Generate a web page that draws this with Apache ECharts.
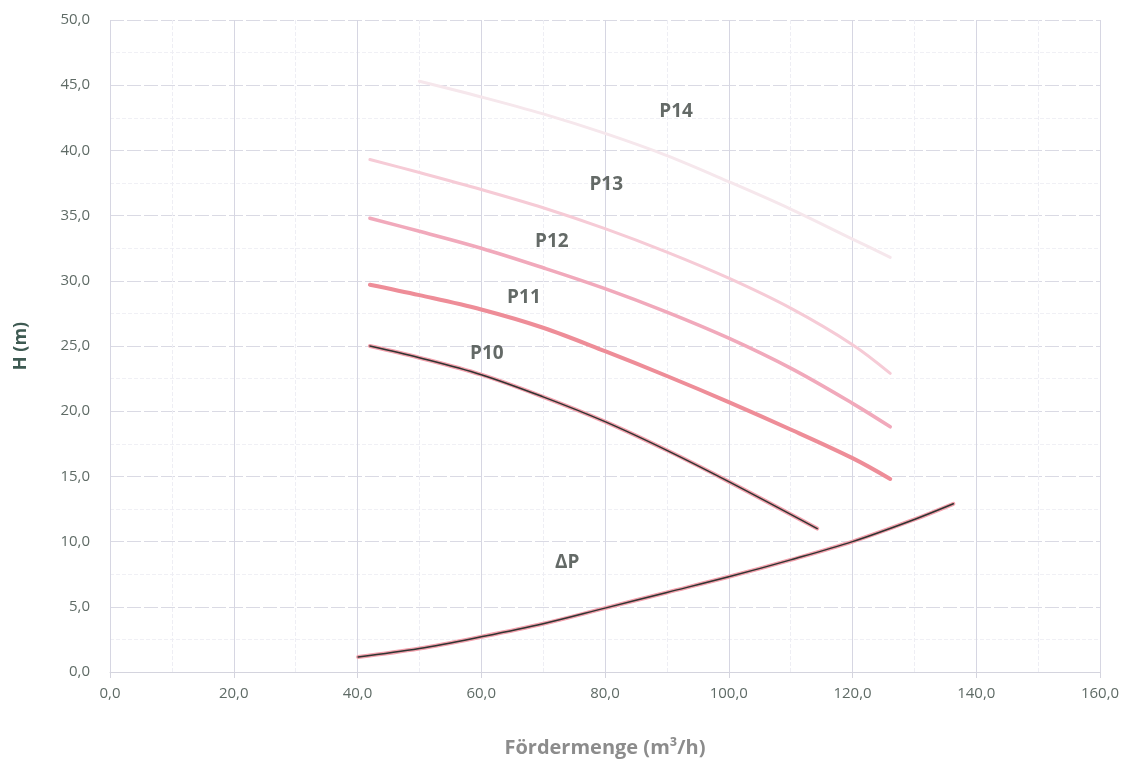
<!DOCTYPE html>
<html>
<head>
<meta charset="utf-8">
<script src="https://cdn.jsdelivr.net/npm/echarts@6/dist/echarts.min.js"></script>
<style>html,body{margin:0;padding:0;background:#fff}#c{width:1136px;height:763px}</style>
</head>
<body>
<div id="c"></div>
<script>
// Data (x: Fördermenge m³/h, y: H m)
const p10 = [[42,25.0],[50,24.1],[60,22.8],[70,21.1],[80,19.2],[90,17.0],[100,14.6],[114.3,11.0]];
const p11 = [[42,29.7],[50,28.9],[60,27.8],[70,26.4],[80,24.6],[90,22.7],[100,20.7],[110,18.6],[120,16.4],[126.1,14.8]];
const p12 = [[42,34.8],[50,33.8],[60,32.5],[70,31.0],[80,29.4],[90,27.6],[100,25.6],[110,23.3],[120,20.6],[126.1,18.8]];
const p13 = [[42,39.3],[50,38.3],[60,37.0],[70,35.6],[80,34.0],[90,32.2],[100,30.2],[110,27.9],[120,25.1],[126.1,22.9]];
const p14 = [[50,45.3],[60,44.1],[70,42.8],[80,41.3],[90,39.6],[100,37.6],[110,35.5],[120,33.2],[126.1,31.8]];
const dp  = [[40.1,1.15],[50,1.8],[60,2.7],[70,3.7],[80,4.9],[90,6.1],[100,7.3],[110,8.6],[120,10.0],[130,11.7],[136.3,12.9]];
const curveLabels = [
  {name:'P14', value:[91.5,43.0]},
  {name:'P13', value:[80.2,37.4]},
  {name:'P12', value:[71.4,33.0]},
  {name:'P11', value:[66.9,28.7]},
  {name:'P10', value:[60.9,24.4]},
  {name:'ΔP',  value:[73.9,8.4]}
];
const xTitle = 'Fördermenge (m³/h)';
const yTitle = 'H (m)';

const fmt = v => v.toFixed(1).replace('.', ',');
function line(data, color, width, z){
  return {type:'line', data, smooth:0.35, showSymbol:false, symbol:'none', z,
    lineStyle:{color, width, cap:'round'}, silent:true};
}
const chart = echarts.init(document.getElementById('c'));
chart.setOption({
  animation:false,
  backgroundColor:'#fff',
  grid:{left:110, right:36, top:20, bottom:91},
  xAxis:{type:'value', min:0, max:160, interval:20,
    name:xTitle, nameLocation:'middle', nameGap:66,
    nameTextStyle:{fontFamily:'Open Sans', fontSize:20, fontWeight:'bold', color:'#8c8c8c'},
    axisLine:{show:true, lineStyle:{color:'#d4d4de', width:1}},
    axisTick:{show:true, length:6, lineStyle:{color:'#d4d4de'}},
    axisLabel:{formatter:fmt, fontFamily:'Open Sans', fontSize:15, color:'#5f6b66', margin:14},
    splitLine:{show:true, lineStyle:{color:'#d6d6e2', width:1}},
    minorTick:{show:false, splitNumber:2},
    minorSplitLine:{show:true, lineStyle:{color:'#eeeef4', width:1, type:'dashed'}}
  },
  yAxis:{type:'value', min:0, max:50, interval:5,
    name:yTitle, nameLocation:'middle', nameGap:80, nameRotate:90,
    nameTextStyle:{fontFamily:'Open Sans', fontSize:18, fontWeight:'bold', color:'#3e5a52'},
    axisLine:{show:false}, axisTick:{show:false},
    axisLabel:{formatter:fmt, fontFamily:'Open Sans', fontSize:15, color:'#5f6b66', margin:20},
    splitLine:{show:true, lineStyle:{color:'#dadae4', width:1, type:[14,3]}},
    minorTick:{show:false, splitNumber:2},
    minorSplitLine:{show:true, lineStyle:{color:'#f0f0f5', width:1, type:'dashed'}}
  },
  series:[
    line(p14, '#f6e7ec', 3, 2),
    line(p13, '#f6cbd6', 3, 2),
    line(p12, '#f1a9bb', 3.5, 2),
    line(p11, '#ee8d98', 4, 2),
    line(p10, '#f2a0ac', 4, 2),
    line(p10, '#2f3532', 1.5, 3),
    line(dp,  '#f2a0ac', 4, 2),
    line(dp,  '#2f3532', 1.5, 3),
    {type:'scatter', data:curveLabels, symbolSize:0, z:5, silent:true,
     label:{show:true, position:'inside', formatter:p=>p.name,
       fontFamily:'Open Sans', fontSize:19, fontWeight:'bold', color:'#3d4541'}}
  ]
});
</script>
</body>
</html>
